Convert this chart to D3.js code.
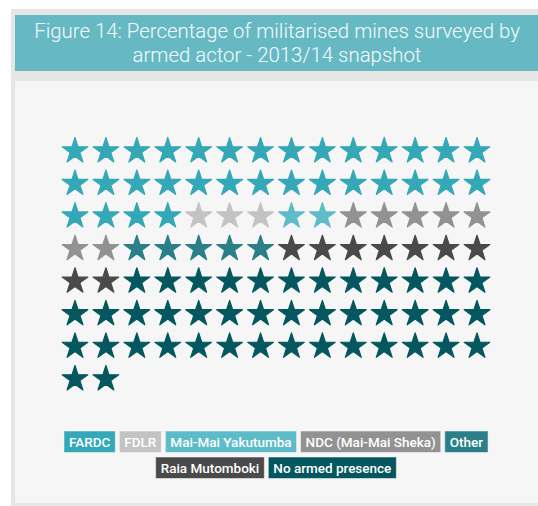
<!DOCTYPE html>
<html>
<head>
<meta charset="utf-8">
<script src="https://cdn.jsdelivr.net/npm/d3@7"></script>
<style>
  html, body { margin: 0; padding: 0; background: #fff; }
  svg { display: block; }
</style>
</head>
<body>
<div id="chart"></div>
<script>
// Waffle of 100 stars, one per percent of surveyed militarised mines

const actors = ["FARDC", "FDLR", "Mai-Mai Yakutumba", "NDC (Mai-Mai Sheka)", "Other", "Raia Mutomboki", "No armed presence"];
const shares = [32, 3, 2, 7, 5, 9, 42];
const colours = ["#35a8b7", "#c3c3c3", "#5dbcc8", "#929292", "#2a7f88", "#4a4a4a", "#04575f"];
const legendRows = [[0, 1, 2, 3, 4], [5, 6]];
const titleLines = ["Figure 14: Percentage of militarised mines surveyed by", "armed actor - 2013/14 snapshot"];

const width = 538;
const height = 506;
const perRow = 14;

// one entry per star
const stars = [];
actors.forEach((a, k) => {
    for (let j = 0; j < shares[k]; j++) stars.push({ actor: a, idx: k });
});
stars.forEach((d, i) => {
    d.col = i % perRow;
    d.row = Math.floor(i / perRow);
});
const nRows = Math.ceil(stars.length / perRow);

const color = d3.scaleOrdinal().domain(actors).range(colours);

const svg = d3.select("#chart")
    .append("svg")
    .attr("width", width)
    .attr("height", height);

// frame: grey border, teal header, light panel
svg.append("rect")
    .attr("x", 11).attr("y", 9)
    .attr("width", width - 11).attr("height", height - 9)
    .attr("fill", "#e6e6e6");

svg.append("rect")
    .attr("x", 15).attr("y", 15)
    .attr("width", width - 15).attr("height", 56)
    .attr("fill", "#66b9c3");

svg.append("rect")
    .attr("x", 15).attr("y", 81)
    .attr("width", width - 15).attr("height", 422)
    .attr("fill", "#f6f6f6");

svg.append("g")
    .selectAll("text")
    .data(titleLines)
    .join("text")
    .attr("x", 277)
    .attr("y", (d, i) => 38 + i * 24)
    .attr("text-anchor", "middle")
    .attr("font-family", "Roboto, 'Open Sans', sans-serif")
    .attr("font-weight", 300)
    .attr("font-size", 20.4)
    .attr("fill", "#f4fbfc")
    .text(d => d);

// star grid
const x = d3.scalePoint()
    .domain(d3.range(perRow))
    .range([75, 477]);

const y = d3.scalePoint()
    .domain(d3.range(nRows))
    .range([150, 378]);

const starPath = d3.symbol().type(d3.symbolStar).size(205);

svg.append("g")
    .selectAll("path")
    .data(stars)
    .join("path")
    .attr("transform", d => `translate(${x(d.col)},${y(d.row) + 1})`)
    .attr("d", starPath)
    .attr("fill", d => color(d.actor))
    .attr("stroke", d => color(d.actor))
    .attr("stroke-width", 1.2)
    .attr("stroke-linejoin", "round");

// legend chips, centred row by row
const legend = svg.append("g");
const chipH = 21.5, gap = 4, padX = 5;
const rowY = [431, 457];

legendRows.forEach((row, r) => {
    const g = legend.append("g");
    const items = g.selectAll("g")
        .data(row)
        .join("g");
    items.append("rect")
        .attr("height", chipH)
        .attr("fill", k => colours[k])
        .attr("stroke", "#ffffff")
        .attr("stroke-opacity", 0.5)
        .attr("stroke-width", 1);
    items.append("text")
        .attr("y", 15.5)
        .attr("font-family", "Roboto, sans-serif")
        .attr("font-weight", 500)
        .attr("font-size", 13.5)
        .attr("fill", "#ffffff")
        .text(k => actors[k]);

    let cx = 0;
    items.each(function () {
        const t = d3.select(this).select("text");
        const w = t.node().getComputedTextLength() + padX * 2;
        t.attr("x", padX);
        d3.select(this).select("rect").attr("width", w);
        d3.select(this).attr("transform", `translate(${cx},0)`);
        cx += w + gap;
    });
    const total = cx - gap;
    g.attr("transform", `translate(${276 - total / 2},${rowY[r]})`);
});
</script>
</body>
</html>
